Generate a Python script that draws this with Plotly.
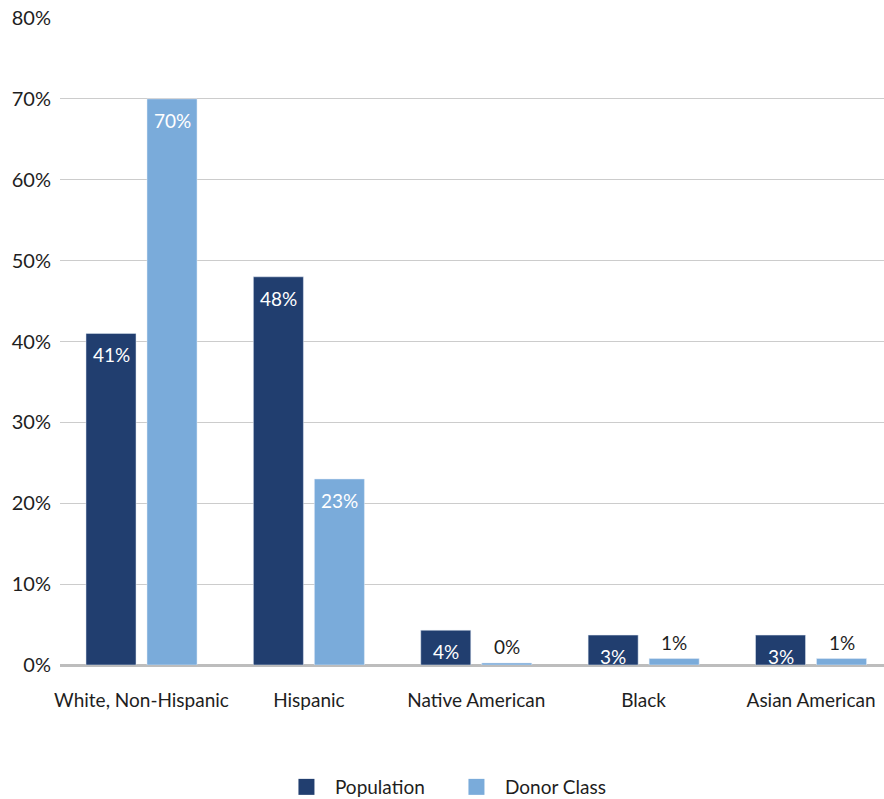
import plotly.graph_objects as go

categories = ["White, Non-Hispanic", "Hispanic", "Native American", "Black", "Asian American"]
population = [41, 48, 4.3, 3.7, 3.7]
donor_class = [70, 23, 0.25, 0.8, 0.8]
population_labels = ["41%", "48%", "4%", "3%", "3%"]
donor_labels = ["70%", "23%", "0%", "1%", "1%"]
donor_label_inside = [True, True, False, False, False]
y_ticks = [0, 10, 20, 30, 40, 50, 60, 70, 80]
y_tick_text = ["0%", "10%", "20%", "30%", "40%", "50%", "60%", "70%", "80%"]

DARK = "#213e6f"
LIGHT = "#7aabda"
FONT = "Lato, 'Open Sans', sans-serif"
TEXT = "#1e1e1e"
W = 400

fig = go.Figure()
fig.add_trace(go.Bar(x=categories, y=population, name="Population",
                     marker=dict(color=DARK), showlegend=False))
fig.add_trace(go.Bar(x=categories, y=donor_class, name="Donor Class",
                     marker=dict(color=LIGHT), showlegend=False))
# legend entries
fig.add_trace(go.Scatter(x=[None], y=[None], mode="markers", name="Population",
                         marker=dict(symbol="square", size=16, color=DARK)))
fig.add_trace(go.Scatter(x=[None], y=[None], mode="markers", name="Donor Class",
                         marker=dict(symbol="square", size=16, color=LIGHT)))

annotations = []
for cat, v, lab in zip(categories, population, population_labels):
    annotations.append(dict(x=cat, y=v, text=lab, showarrow=False, xref="x", yref="y",
                            xshift=-30.5, yanchor="top", yshift=-8,
                            font=dict(color="white", size=19, family=FONT, weight=W)))
for cat, v, lab, inside in zip(categories, donor_class, donor_labels, donor_label_inside):
    annotations.append(dict(x=cat, y=v, text=lab, showarrow=False, xref="x", yref="y",
                            xshift=30.5, yanchor="top" if inside else "bottom",
                            yshift=-8 if inside else 3,
                            font=dict(color="white" if inside else TEXT, size=19, family=FONT, weight=W)))

fig.update_layout(
    width=884, height=799,
    margin=dict(l=60, r=0, t=18, b=134, autoexpand=False),
    paper_bgcolor="white", plot_bgcolor="white",
    barmode="group", bargap=0.271, bargroupgap=0.18,
    font=dict(family=FONT, size=19, color=TEXT, weight=W),
    annotations=annotations,
    legend=dict(orientation="h", x=0.2645, xref="paper", xanchor="left",
                y=0.015, yref="container", yanchor="middle",
                font=dict(size=19, family=FONT, color=TEXT, weight=W), itemwidth=47,
                entrywidth=108, traceorder="normal"),
    showlegend=True,
)
fig.update_xaxes(range=[-0.487, 4.436], showgrid=False, showline=False, automargin=False,
                 ticks="", ticklabelstandoff=22,
                 tickfont=dict(size=19, family=FONT, color=TEXT, weight=W))
fig.update_yaxes(range=[0, 80], tickvals=y_ticks, ticktext=y_tick_text, automargin=False,
                 showgrid=True, gridcolor="#cccccc", gridwidth=1,
                 zeroline=True, zerolinecolor="#bdbdbd", zerolinewidth=3,
                 showline=False, ticks="", ticklabelstandoff=8,
                 tickfont=dict(size=20, family=FONT, color=TEXT, weight=W))

fig.write_html("out.html")
